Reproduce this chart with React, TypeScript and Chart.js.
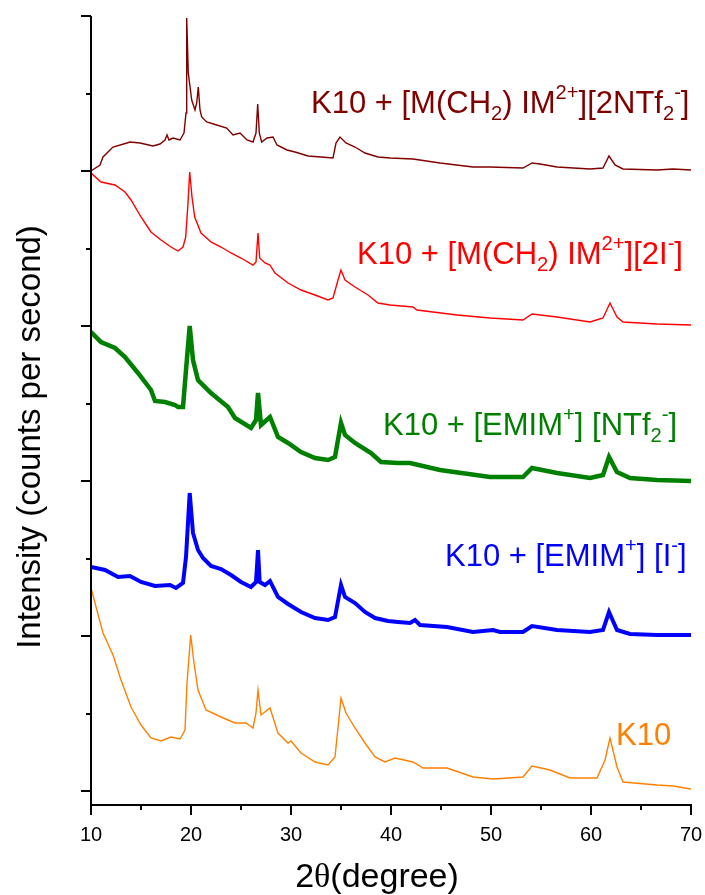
import { useEffect, useRef } from "react";
import { Chart, registerables } from "chart.js";

Chart.register(...registerables);

// ---------- axis ticks ----------
const xMajorTicks = [10, 20, 30, 40, 50, 60, 70];
const xMinorTicks = [15, 25, 35, 45, 55, 65];
const yMajorTicks = [0, 155, 310, 465, 620, 775];
const yMinorTicks = [77.5, 232.5, 387.5, 542.5, 697.5];

// stacking offsets of the five patterns (a.u.)
const seriesOffsets = [0, 155, 310, 465, 620];

// ---------- data (2θ in degrees, intensity in a.u. above own baseline) ----------
const k10Deg = [10, 11.2, 12.2, 13.0, 14.0, 15.0, 16.0, 17.0, 18.0, 18.9, 19.4, 19.6, 19.97, 20.3, 20.7, 21.5, 23.0, 24.4, 25.5, 26.2, 26.5, 26.7, 27.0, 27.9, 28.7, 29.7, 30.0, 31.0, 32.4, 33.7, 34.4, 35.0, 35.5, 36.4, 37.4, 38.4, 39.4, 40.4, 42.2, 43.2, 45.6, 48.2, 50.2, 53.2, 54.1, 55.9, 57.9, 60.6, 61.4, 61.9, 62.6, 63.2, 66.6, 68.2, 70];
const k10Int = [203, 158, 136, 111, 84, 66, 53, 50, 54, 52, 61, 108, 156, 128, 101, 81, 74, 68, 68, 63, 78, 101, 76, 83, 58, 48, 50, 38, 29, 26, 34, 93, 78, 63, 48, 34, 29, 33, 29, 23, 23, 14, 12, 14, 25, 21, 13, 13, 31, 53, 24, 9, 6, 5, 2];

const emimIDeg = [10, 11.4, 12.7, 13.9, 15.0, 16.4, 17.9, 18.5, 19.2, 19.5, 19.87, 20.2, 20.7, 21.2, 22.0, 23.0, 24.0, 25.0, 26.0, 26.5, 26.7, 26.87, 27.4, 27.9, 28.7, 29.7, 31.0, 32.4, 33.7, 34.4, 35.0, 35.4, 36.4, 37.4, 38.4, 39.7, 40.7, 41.9, 42.4, 42.9, 45.6, 48.2, 50.2, 50.9, 53.2, 54.1, 56.6, 59.9, 61.2, 61.8, 62.6, 63.9, 66.6, 70];
const emimIInt = [69, 66, 59, 60, 54, 50, 51, 48, 53, 79, 143, 103, 86, 78, 70, 67, 61, 54, 49, 54, 86, 54, 51, 55, 39, 32, 24, 18, 16, 19, 51, 39, 33, 24, 18, 15, 14, 13, 16, 11, 9, 4, 6, 4, 4, 10, 6, 4, 6, 24, 6, 2, 1, 1];

const emimNtfDeg = [10, 11.0, 12.4, 13.4, 14.7, 16.0, 16.4, 17.4, 18.4, 18.7, 19.2, 19.5, 19.87, 20.2, 20.7, 22.0, 23.7, 24.4, 26.0, 26.5, 26.7, 27.0, 27.9, 28.7, 29.7, 31.0, 32.4, 33.7, 34.4, 35.0, 35.4, 36.4, 38.0, 39.0, 40.7, 41.9, 44.9, 49.9, 53.2, 54.1, 56.6, 59.9, 61.2, 61.8, 62.6, 63.9, 66.6, 70];
const emimNtfInt = [149, 139, 133, 124, 108, 91, 80, 79, 76, 74, 74, 111, 155, 121, 101, 88, 74, 63, 53, 61, 88, 56, 64, 44, 38, 29, 23, 21, 24, 58, 46, 38, 28, 19, 18, 18, 11, 4, 4, 13, 8, 3, 6, 24, 9, 3, 1, 0];

const mch2IDeg = [10, 11.0, 12.4, 13.4, 14.0, 15.0, 16.0, 17.0, 18.0, 18.7, 19.2, 19.47, 19.7, 19.87, 20.1, 20.37, 21.0, 22.0, 23.0, 24.0, 25.0, 26.2, 26.5, 26.7, 26.87, 27.4, 27.9, 28.4, 29.7, 31.0, 32.4, 33.7, 34.2, 34.7, 35.0, 35.4, 36.4, 37.7, 38.7, 39.9, 42.2, 42.6, 46.6, 49.9, 53.2, 54.1, 56.6, 59.9, 61.2, 61.9, 62.6, 63.2, 66.6, 70];
const mch2IInt = [153, 144, 141, 134, 126, 109, 94, 86, 79, 75, 79, 89, 123, 154, 129, 109, 93, 84, 79, 73, 68, 61, 64, 93, 68, 63, 61, 53, 43, 36, 31, 26, 28, 46, 56, 46, 39, 31, 23, 21, 19, 16, 11, 8, 6, 12, 9, 4, 8, 23, 9, 4, 2, 1];

const mch2NtfDeg = [10, 10.9, 11.2, 12.2, 13.6, 13.9, 14.9, 16.2, 16.9, 17.4, 17.6, 17.8, 18.2, 18.9, 19.3, 19.5, 19.57, 19.73, 20.07, 20.4, 20.57, 20.73, 20.9, 21.07, 21.57, 22.57, 23.57, 24.2, 24.9, 25.6, 26.2, 26.5, 26.67, 26.83, 27.07, 27.6, 28.2, 28.6, 29.6, 30.4, 31.7, 33.0, 34.2, 34.5, 34.9, 35.5, 36.4, 37.4, 38.7, 39.9, 42.2, 44.9, 48.2, 49.9, 53.2, 54.1, 54.9, 56.6, 59.9, 61.2, 61.8, 62.4, 63.2, 66.6, 68.2, 70];
const mch2NtfInt = [0, 6, 14, 24, 28, 29, 28, 25, 27, 31, 36, 31, 33, 31, 38, 58, 153, 98, 71, 61, 68, 84, 61, 54, 49, 46, 43, 36, 38, 31, 29, 38, 67, 38, 29, 33, 34, 26, 21, 19, 15, 14, 13, 28, 34, 28, 24, 18, 14, 13, 12, 8, 4, 4, 3, 8, 7, 4, 2, 3, 15, 6, 2, 1, 2, 1];

const seriesNames = [
  "K10",
  "K10 + [EMIM+] [I-]",
  "K10 + [EMIM+] [NTf2-]",
  "K10 + [M(CH2) IM2+][2I-]",
  "K10 + [M(CH2) IM2+][2NTf2-]",
];
const seriesDeg = [k10Deg, emimIDeg, emimNtfDeg, mch2IDeg, mch2NtfDeg];
const seriesInt = [k10Int, emimIInt, emimNtfInt, mch2IInt, mch2NtfInt];
const seriesColors = ["#ff8000", "#0000ff", "#008000", "#ff0000", "#800000"];
const seriesWidths = [1.4, 4, 4.5, 1.4, 1.4];

// rich-text labels: [text, kind]
type Seg = [string, "n" | "sub" | "sup"];
const labelSegments: Seg[][] = [
  [["K10", "n"]],
  [["K10 + [EMIM", "n"], ["+", "sup"], ["] [I", "n"], ["-", "sup"], ["]", "n"]],
  [["K10 + [EMIM", "n"], ["+", "sup"], ["] [NTf", "n"], ["2", "sub"], ["-", "sup"], ["]", "n"]],
  [["K10 + [M(CH", "n"], ["2", "sub"], [") IM", "n"], ["2+", "sup"], ["][2I", "n"], ["-", "sup"], ["]", "n"]],
  [["K10 + [M(CH", "n"], ["2", "sub"], [") IM", "n"], ["2+", "sup"], ["][2NTf", "n"], ["2", "sub"], ["-", "sup"], ["]", "n"]],
];
// label anchor (left x in degrees, text baseline in a.u.)
const labelAnchors = [
  [62.5, 46],
  [45.4, 225],
  [39.2, 356.5],
  [36.6, 527.5],
  [32.0, 678],
];

const SANS = "'Liberation Sans', Arial, sans-serif";

function drawRich(ctx: CanvasRenderingContext2D, segs: Seg[], x: number, y: number, size: number, color: string) {
  ctx.fillStyle = color;
  ctx.textBaseline = "alphabetic";
  ctx.textAlign = "left";
  let cx = x;
  for (const [t, k] of segs) {
    if (k === "n") {
      ctx.font = `${size}px ${SANS}`;
      ctx.fillText(t, cx, y);
      cx += ctx.measureText(t).width;
    } else {
      const s = size * 0.65;
      ctx.font = `${s}px ${SANS}`;
      const dy = k === "sub" ? size * 0.23 : -size * 0.44;
      ctx.fillText(t, cx, y + dy);
      cx += ctx.measureText(t).width;
    }
  }
}

const originPlugin = {
  id: "originAxes",
  afterDraw(chart: any) {
    const ctx: CanvasRenderingContext2D = chart.ctx;
    const xs = chart.scales.x;
    const ys = chart.scales.y;
    const { left, right, top, bottom } = chart.chartArea;
    ctx.save();
    ctx.strokeStyle = "#000";
    ctx.lineWidth = 2;
    ctx.lineCap = "butt";
    ctx.beginPath();
    ctx.moveTo(left, top);
    ctx.lineTo(left, bottom + 1);
    ctx.moveTo(left - 1, bottom);
    ctx.lineTo(right + 1, bottom);
    ctx.stroke();

    ctx.beginPath();
    for (const v of yMajorTicks) {
      const py = Math.round(ys.getPixelForValue(v));
      ctx.moveTo(left - 10, py);
      ctx.lineTo(left, py);
    }
    for (const v of yMinorTicks) {
      const py = Math.round(ys.getPixelForValue(v));
      ctx.moveTo(left - 5, py);
      ctx.lineTo(left, py);
    }
    for (const v of xMajorTicks) {
      const px = Math.round(xs.getPixelForValue(v));
      ctx.moveTo(px, bottom);
      ctx.lineTo(px, bottom + 10);
    }
    for (const v of xMinorTicks) {
      const px = Math.round(xs.getPixelForValue(v));
      ctx.moveTo(px, bottom);
      ctx.lineTo(px, bottom + 5);
    }
    ctx.stroke();

    // x tick labels
    ctx.fillStyle = "#000";
    ctx.font = `20px ${SANS}`;
    ctx.textAlign = "center";
    ctx.textBaseline = "alphabetic";
    for (const v of xMajorTicks) {
      ctx.fillText(String(v), xs.getPixelForValue(v), bottom + 36);
    }

    // x title: 2θ(degree)
    const tsize = 34;
    ctx.font = `${tsize}px ${SANS}`;
    const w1 = ctx.measureText("2").width;
    const w3 = ctx.measureText("(degree)").width;
    ctx.font = `${tsize}px 'Liberation Serif', 'Times New Roman', serif`;
    const w2 = ctx.measureText("θ").width;
    const total = w1 + w2 + w3;
    let tx = 377 - total / 2;
    const ty = bottom + 82;
    ctx.textAlign = "left";
    ctx.font = `${tsize}px ${SANS}`;
    ctx.fillText("2", tx, ty);
    tx += w1;
    ctx.font = `${tsize}px 'Liberation Serif', 'Times New Roman', serif`;
    ctx.fillText("θ", tx, ty);
    tx += w2;
    ctx.font = `${tsize}px ${SANS}`;
    ctx.fillText("(degree)", tx, ty);

    // y title
    ctx.save();
    ctx.translate(40, 437);
    ctx.rotate(-Math.PI / 2);
    ctx.font = `33px ${SANS}`;
    ctx.textAlign = "center";
    ctx.textBaseline = "alphabetic";
    ctx.fillText("Intensity (counts per second)", 0, 0);
    ctx.restore();

    // series labels
    labelSegments.forEach((segs, i) => {
      const [ax, ay] = labelAnchors[i];
      drawRich(ctx, segs, xs.getPixelForValue(ax), ys.getPixelForValue(ay), 31, seriesColors[i]);
    });
    ctx.restore();
  },
};

export default function App() {
  const ref = useRef<HTMLCanvasElement | null>(null);
  useEffect(() => {
    if (!ref.current) return;
    const datasets = seriesNames.map((name, i) => ({
      label: name,
      data: seriesDeg[i].map((d, j) => ({ x: d, y: seriesInt[i][j] + seriesOffsets[i] })),
      borderColor: seriesColors[i],
      backgroundColor: seriesColors[i],
      borderWidth: seriesWidths[i],
      pointRadius: 0,
      tension: 0,
      fill: false,
    }));
    const chart = new Chart(ref.current, {
      type: "line",
      data: { datasets },
      options: {
        animation: false,
        responsive: false,
        devicePixelRatio: 1,
        parsing: true,
        layout: { padding: { left: 91, right: 14, top: 16, bottom: 90 } },
        plugins: { legend: { display: false }, tooltip: { enabled: false } },
        scales: {
          x: { type: "linear", min: 10, max: 70, display: false },
          y: { type: "linear", min: -14, max: 775, display: false },
        },
      },
      plugins: [originPlugin],
    });
    return () => chart.destroy();
  }, []);
  return (
    <div style={{ position: "absolute", left: 0, top: 0, width: 705, height: 895, background: "#fff" }}>
      <canvas ref={ref} width={705} height={895} />
    </div>
  );
}
